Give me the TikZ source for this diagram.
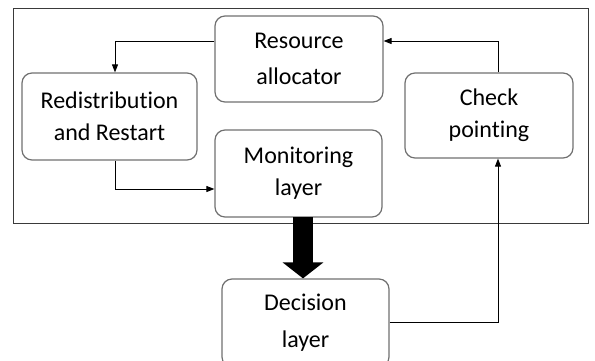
\documentclass[tikz,border=0pt]{standalone}
\usepackage{fontspec}
\setmainfont{Carlito}[Ligatures={NoCommon}]
\usetikzlibrary{arrows.meta}
\definecolor{boxgray}{HTML}{707070}
\definecolor{framegray}{HTML}{3A3A3A}
\tikzset{
  box/.style={draw=boxgray, line width=1.2pt, rounded corners=10pt, inner sep=0pt,
    align=center, text=black, font=\fontsize{24}{32}\selectfont},
  frame/.style={draw=framegray, line width=1pt, inner sep=0pt},
  conn/.style={draw=black, line width=0.9pt, -{Triangle[length=8pt,width=6pt]}},
  bigarrow/.style={draw=black, line width=20pt, -{Triangle[length=16pt,width=40pt]}}
}
\begin{document}
\begin{tikzpicture}[x=1pt,y=-1pt]
\useasboundingbox (0,0) rectangle (595,360);
\node[frame, minimum width=575pt, minimum height=215pt] (frame) at (300.5,115.5) {};
\node[box, minimum width=168pt, minimum height=86pt, font=\fontsize{24}{36}\selectfont] (res) at (299,59) {Resource\\allocator};
\node[box, minimum width=175pt, minimum height=87pt] (redis) at (109.5,116.5) {Redistribution\\and Restart};
\node[box, minimum width=167pt, minimum height=87pt] (mon) at (298.5,173.5) {Monitoring\\layer};
\node[box, minimum width=168pt, minimum height=85pt] (check) at (489,115.5) {Check\\pointing};
\node[box, minimum width=167pt, minimum height=88pt, font=\fontsize{24}{37}\selectfont] (dec) at (305.5,323) {Decision\\layer};
\draw[conn] ([yshift=18pt]res.west) -| ([xshift=5.5pt]redis.north);
\draw[conn] ([xshift=5.5pt]redis.south) |- ([yshift=-15.5pt]mon.west);
\draw[conn] ([xshift=9pt]check.north) |- ([yshift=18pt]res.east);
\draw[conn] ([yshift=1pt]dec.east) -| ([xshift=9pt]check.south);
\draw[bigarrow] ([xshift=4.5pt,yshift=0.5pt]mon.south) -- ([xshift=-2.5pt]dec.north);
\end{tikzpicture}
\end{document}
